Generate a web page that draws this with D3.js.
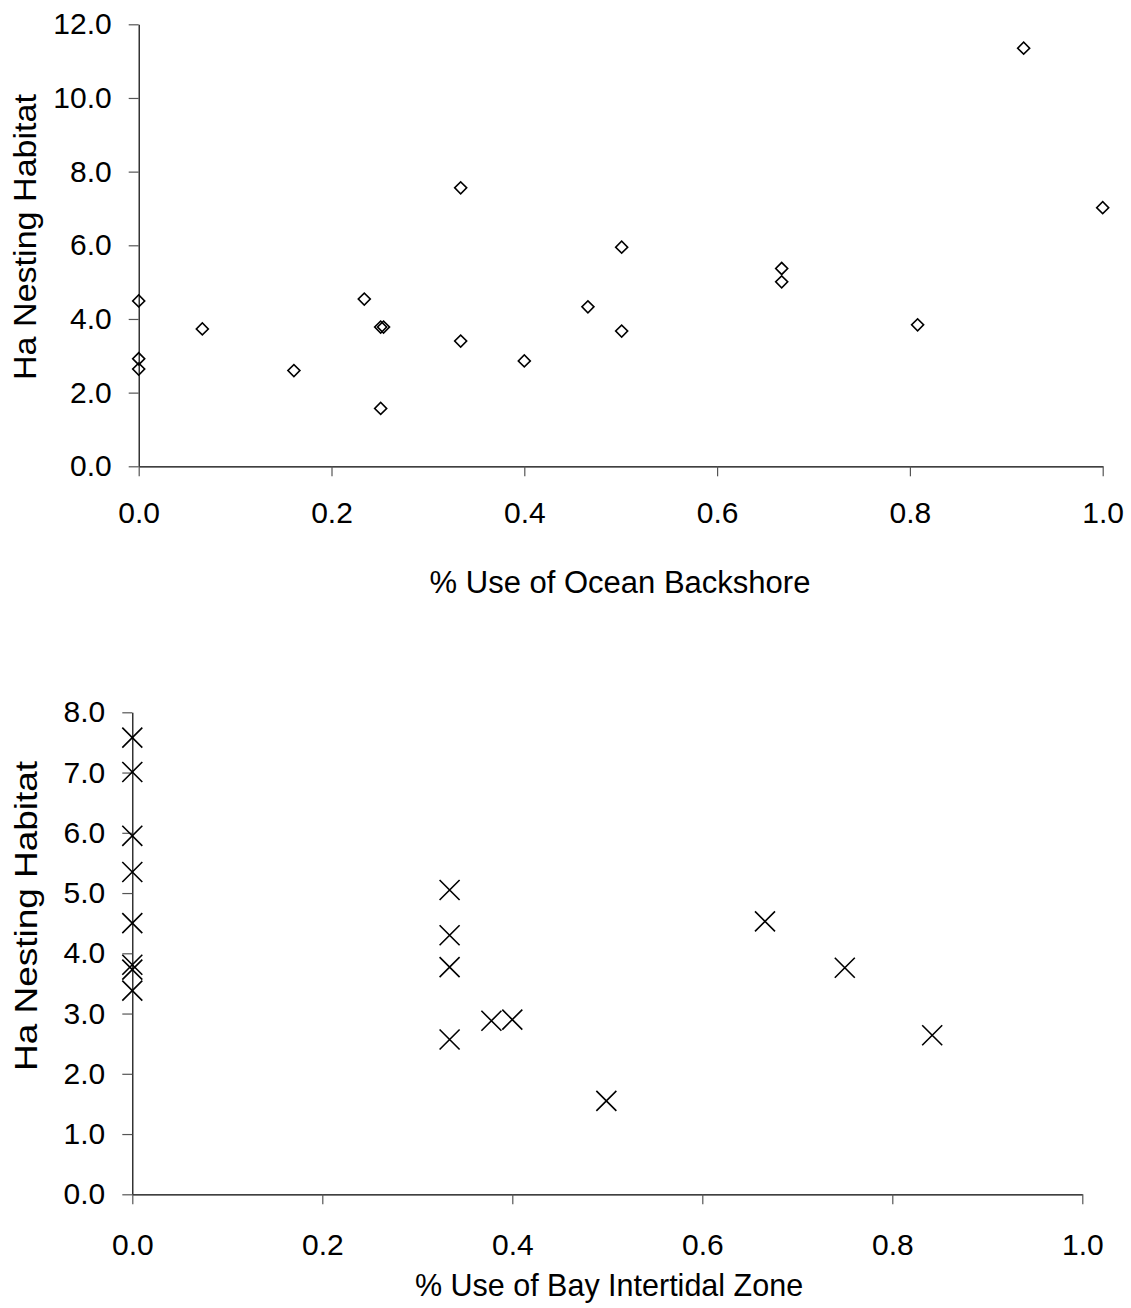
<!DOCTYPE html>
<html>
<head>
<meta charset="utf-8">
<script src="https://cdn.jsdelivr.net/npm/d3@7"></script>
<style>
  html, body { margin: 0; padding: 0; background: #fff; }
  svg { display: block; }
  text { font-family: "Liberation Sans", Arial, sans-serif; fill: #000; }
</style>
</head>
<body>
<svg id="chart" width="1131" height="1308"></svg>
<script>
// ---- Data: top chart (Ocean Backshore) ----
const oceanUse = [0, 0, 0, 0.066, 0.161, 0.234, 0.251, 0.254, 0.251, 0.334, 0.334, 0.400, 0.466, 0.501, 0.501, 0.667, 0.667, 0.808, 0.918, 1.0];
const oceanHa  = [4.49, 2.92, 2.64, 3.73, 2.60, 4.54, 3.78, 3.78, 1.57, 7.56, 3.40, 2.86, 4.33, 5.95, 3.67, 5.37, 5.01, 3.84, 11.35, 7.02];

// ---- Data: bottom chart (Bay Intertidal Zone) ----
const bayUse = [0, 0, 0, 0, 0, 0, 0, 0, 0.334, 0.334, 0.334, 0.334, 0.378, 0.400, 0.499, 0.666, 0.750, 0.842];
const bayHa  = [7.58, 7.01, 5.95, 5.35, 4.50, 3.81, 3.73, 3.38, 5.05, 4.30, 3.77, 2.57, 2.88, 2.90, 1.55, 4.53, 3.76, 2.64];

// ---- Tick values ----
const xTicks = [0, 0.2, 0.4, 0.6, 0.8, 1.0];
const yTicksTop = [0, 2, 4, 6, 8, 10, 12];
const yTicksBottom = [0, 1, 2, 3, 4, 5, 6, 7, 8];

const xTitleTop = "% Use of Ocean Backshore";
const xTitleBottom = "% Use of Bay Intertidal Zone";
const yTitle = "Ha Nesting Habitat";

const svg = d3.select("#chart");
const fmt = d3.format(".1f");

function drawPanel(cfg) {
  const g = svg.append("g");
  const x = d3.scaleLinear().domain([0, 1]).range([cfg.left, cfg.right]);
  const y = d3.scaleLinear().domain(cfg.yDomain).range([cfg.bottom, cfg.top]);

  const yAxis = g.append("g")
    .attr("transform", `translate(${cfg.left},0)`)
    .call(d3.axisLeft(y).tickValues(cfg.yTicks).tickFormat(fmt).tickSize(10).tickPadding(17).tickSizeOuter(0));
  const xAxis = g.append("g")
    .attr("transform", `translate(0,${cfg.bottom})`)
    .call(d3.axisBottom(x).tickValues(xTicks).tickFormat(fmt).tickSize(10).tickPadding(cfg.xPad).tickSizeOuter(0));

  [yAxis, xAxis].forEach(a => {
    a.select(".domain").attr("stroke", "#000").attr("stroke-width", 1.2);
    a.selectAll(".tick line").attr("stroke", "#555").attr("stroke-width", 1.2);
    a.selectAll(".tick text")
      .style("font-family", '"Liberation Sans", Arial, sans-serif')
      .style("font-size", "30px")
      .attr("fill", "#000");
  });

  // y title
  g.append("text")
    .attr("transform", `translate(${cfg.yTitleX},${cfg.yTitleY}) rotate(-90)`)
    .attr("text-anchor", "middle")
    .attr("textLength", cfg.yTitleLen)
    .attr("lengthAdjust", "spacingAndGlyphs")
    .style("font-size", cfg.yTitleSize + "px")
    .text(yTitle);

  // x title
  g.append("text")
    .attr("x", cfg.xTitleX)
    .attr("y", cfg.xTitleY)
    .attr("text-anchor", "middle")
    .style("font-size", cfg.xTitleSize + "px")
    .text(cfg.xTitle);

  const pts = cfg.xs.map((v, i) => ({ x: v, y: cfg.ys[i] }));
  g.append("g").selectAll("path")
    .data(pts)
    .join("path")
    .attr("transform", d => `translate(${x(d.x)},${y(d.y)})` + (cfg.rotate ? " rotate(45)" : ""))
    .attr("d", d3.symbol().type(cfg.symbol).size(cfg.symbolSize))
    .attr("fill", "none")
    .attr("stroke", "#000")
    .attr("stroke-width", cfg.symbolStroke);
}

drawPanel({
  left: 138.7, right: 1102.7, top: 24.3, bottom: 466.3,
  yDomain: [0, 12], yTicks: yTicksTop, xPad: 25,
  xs: oceanUse, ys: oceanHa,
  symbol: d3.symbolSquare, rotate: true, symbolSize: 72, symbolStroke: 1.6,
  yTitleX: 36, yTitleY: 237, yTitleSize: 32, yTitleLen: 286,
  xTitle: xTitleTop, xTitleX: 620, xTitleY: 593, xTitleSize: 31
});

drawPanel({
  left: 132.3, right: 1082.3, top: 712.3, bottom: 1194.3,
  yDomain: [0, 8], yTicks: yTicksBottom, xPad: 29,
  xs: bayUse, ys: bayHa,
  symbol: d3.symbolX, rotate: false, symbolSize: 263, symbolStroke: 1.6,
  yTitleX: 37, yTitleY: 916, yTitleSize: 32, yTitleLen: 310,
  xTitle: xTitleBottom, xTitleX: 609, xTitleY: 1296, xTitleSize: 30.5
});
</script>
</body>
</html>
